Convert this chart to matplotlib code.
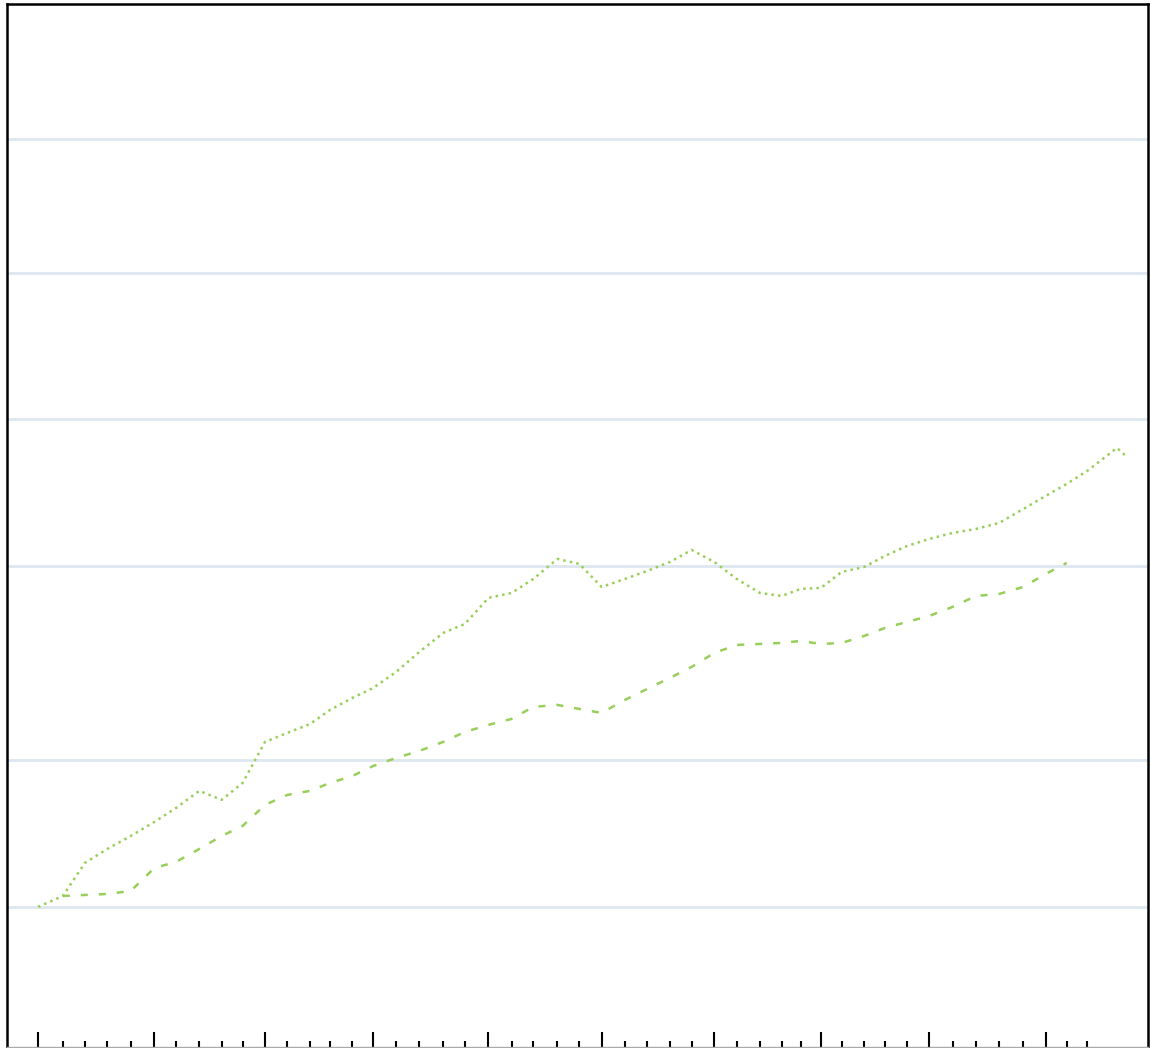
import matplotlib
matplotlib.use("Agg")
import matplotlib.pyplot as plt
from matplotlib.ticker import FixedLocator, NullFormatter, NullLocator

# ---- data ----
# time positions of the periods (read off the axis ticks)
periods = [0.00, 1.11, 2.10, 3.10, 4.15, 5.21, 6.18, 7.22, 8.22, 9.16,
           10.16, 11.16, 12.18, 13.07, 14.07, 15.01, 16.03, 17.07, 18.14, 19.11,
           20.16, 21.20, 22.17, 23.25, 24.23, 25.23, 26.27, 27.27, 28.29, 29.26,
           30.27, 31.28, 32.32, 33.29, 34.14, 35.05, 35.98, 36.99, 37.91, 38.91,
           39.90, 40.94, 41.99, 43.03, 44.11, 45.11, 46.05, 46.97]
extra_periods_a = [48.30, 48.75]

# index values, first period = 100
series_a = [100.0, 105.3, 123.1, 131.5, 139.8, 149.4, 159.6, 173.0, 165.8, 179.6,
            218.0, 227.4, 237.3, 253.5, 268.3, 281.3, 303.4, 333.4, 364.7, 380.5,
            430.3, 440.5, 470.6, 517.3, 505.2, 453.2, 470.6, 488.8, 510.0, 539.7,
            510.0, 470.6, 440.5, 434.3, 448.9, 451.1, 486.5, 498.1, 524.6, 550.0,
            568.5, 584.8, 596.0, 613.1, 655.0, 696.5, 737.1, 783.8, 873.7, 837.4]

series_b = [105.3, 105.8, 106.3, 107.8, 120.2, 123.7, 131.5, 139.8, 146.6, 161.9,
            169.7, 173.0, 179.6, 185.6, 194.6, 202.1, 208.9, 218.0, 228.5, 236.2,
            243.0, 257.2, 259.6, 254.7, 250.0, 265.8, 280.0, 294.9, 310.6, 331.8,
            344.6, 346.2, 347.9, 351.2, 346.2, 347.9, 359.6, 373.4, 384.2, 395.2,
            412.4, 434.3, 438.5, 453.2, 481.9, 507.6]

grid_values = [100, 200, 500, 1000, 2000, 3750]

x_a = periods + extra_periods_a
x_b = periods[1:1 + len(series_b)]
major_ticks = periods[::5]
minor_ticks = [p for i, p in enumerate(periods) if i % 5 != 0]

GREEN = "#98cf5a"
GRID = "#dde6f1"

W, H = 1150, 1048
fig = plt.figure(figsize=(W / 100, H / 100), dpi=100)
ax = fig.add_axes([7 / W, 1 / H, (1148 - 7) / W, (1047 - 4) / H])

ax.set_yscale("log")
ax.set_xlim(-1.39, 49.69)
ax.set_ylim(51.6, 7111)

for v in grid_values:
    ax.axhline(v, color=GRID, lw=2.0, zorder=1)

ax.plot(x_a, series_a, color=GREEN, lw=1.8, linestyle=":", zorder=3)
ax.plot(x_b, series_b, color=GREEN, lw=1.8, dashes=[2.8, 4.4], zorder=3)

ax.yaxis.set_major_locator(NullLocator())
ax.yaxis.set_minor_locator(NullLocator())
ax.xaxis.set_major_locator(FixedLocator(major_ticks))
ax.xaxis.set_minor_locator(FixedLocator(minor_ticks))
ax.xaxis.set_major_formatter(NullFormatter())
ax.xaxis.set_minor_formatter(NullFormatter())
ax.tick_params(axis="x", which="major", direction="in", length=11, width=1.5, color="black")
ax.tick_params(axis="x", which="minor", direction="in", length=4, width=1.5, color="black")

for side in ["left", "top", "right"]:
    ax.spines[side].set_color("black")
    ax.spines[side].set_linewidth(1.8)
ax.spines["bottom"].set_color("#aaaaaa")
ax.spines["bottom"].set_linewidth(1.0)

fig.savefig("out.png", dpi=100)
